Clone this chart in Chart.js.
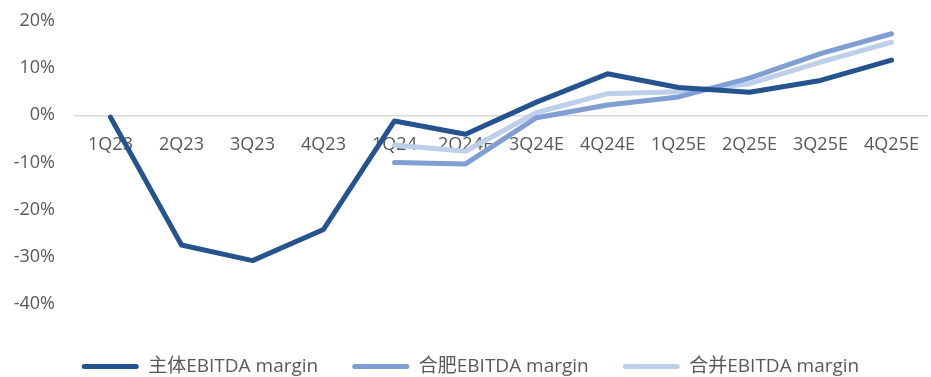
<!DOCTYPE html>
<html>
<head>
<meta charset="utf-8">
<script src="https://cdn.jsdelivr.net/npm/chart.js"></script>
<style>
  body { margin: 0; background: #fff; }
  #wrap { width: 931px; height: 377px; }
</style>
</head>
<body>
<div id="wrap"><canvas id="chart" width="931" height="377"></canvas></div>
<script>
const quarters = ["1Q23", "2Q23", "3Q23", "4Q23", "1Q24", "2Q24E", "3Q24E", "4Q24E", "1Q25E", "2Q25E", "3Q25E", "4Q25E"];
const mainMargin = [-0.4, -27.5, -30.8, -24.2, -1.2, -4.0, 2.8, 8.8, 5.9, 4.9, 7.4, 11.7];
const hefeiMargin = [null, null, null, null, -10.0, -10.3, -0.5, 2.2, 3.9, 7.9, 13.1, 17.3];
const mergedMargin = [null, null, null, null, -6.3, -7.6, 0.6, 4.6, 5.0, 6.7, 11.3, 15.5];
const seriesNames = ["主体EBITDA margin", "合肥EBITDA margin", "合并EBITDA margin"];

const fontFamily = "'Open Sans', 'Noto Sans CJK SC', sans-serif";
const colors = ["#245390", "#7F9ED4", "#BDCFE9"];
const noTick = "rgba(0,0,0,0)";

function line(label, data, color) {
  return {
    label,
    data,
    borderColor: color,
    backgroundColor: color,
    borderWidth: 5,
    pointRadius: 0,
    tension: 0,
    borderCapStyle: "round",
    borderJoinStyle: "round",
    spanGaps: false,
  };
}

new Chart(document.getElementById("chart"), {
  type: "line",
  data: {
    labels: quarters,
    datasets: [
      line(seriesNames[0], mainMargin, colors[0]),
      line(seriesNames[1], hefeiMargin, colors[1]),
      line(seriesNames[2], mergedMargin, colors[2]),
    ],
  },
  options: {
    responsive: false,
    animation: false,
    layout: { padding: { left: 14, right: 4, top: 21, bottom: -9 } },
    plugins: {
      tooltip: { enabled: false },
      legend: {
        position: "bottom",
        // blank title only pushes the items down
        title: { display: true, text: " ", font: { size: 10, lineHeight: 1.2 }, padding: { top: 7, bottom: 0 } },
        labels: {
          font: { family: fontFamily, size: 19 },
          color: "#595959",
          boxWidth: 57,
          boxHeight: 5,
          useBorderRadius: true,
          borderRadius: 2.5,
          padding: 34,
          generateLabels: (chart) =>
            chart.data.datasets.map((ds, i) => ({
              text: ds.label,
              fillStyle: ds.borderColor,
              strokeStyle: ds.borderColor,
              lineWidth: 0,
              borderRadius: 2.5,
              datasetIndex: i,
              fontColor: "#595959",
            })),
        },
      },
    },
    scales: {
      x: {
        position: { y: 0 },
        offset: true,
        grid: { display: true, drawOnChartArea: false, tickLength: 19, tickColor: noTick },
        border: { display: true, color: "#D9D9D9", width: 1.5 },
        ticks: {
          font: { family: fontFamily, size: 18 },
          color: "#595959",
          padding: 0,
          maxRotation: 0,
          autoSkip: false,
        },
      },
      y: {
        min: -40,
        max: 20,
        grid: { display: true, drawOnChartArea: false, tickLength: 18, tickColor: noTick },
        border: { display: false },
        ticks: {
          stepSize: 10,
          padding: 2,
          font: { family: fontFamily, size: 18 },
          color: "#595959",
          callback: (v) => v + "%",
        },
        afterFit: (s) => { s.width = 61; },
      },
    },
  },
});
</script>
</body>
</html>
